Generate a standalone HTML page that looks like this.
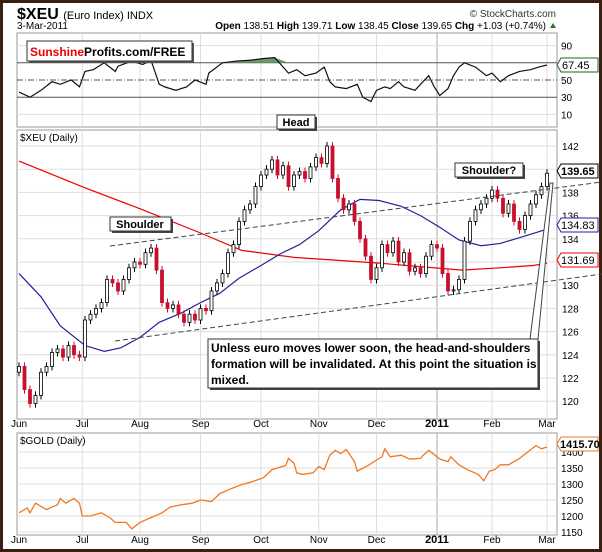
<!DOCTYPE html>
<html><head><meta charset="utf-8"><style>
body{margin:0;background:#fff}
svg{display:block;font-family:"Liberation Sans",sans-serif}
</style></head><body>
<svg id="chart" width="602" height="552" viewBox="0 0 602 552">
<rect x="0" y="0" width="602" height="552" fill="#fff"/>
<rect x="1.5" y="1.5" width="599" height="549" fill="none" stroke="#3b1f10" stroke-width="3"/>
<text x="17" y="19" font-size="16" font-weight="bold">$XEU <tspan font-size="11" font-weight="normal">(Euro Index) INDX</tspan></text>
<text x="556" y="17" font-size="10" text-anchor="end" fill="#333">© StockCharts.com</text>
<text x="17" y="29" font-size="10">3-Mar-2011</text>
<text x="546" y="29" font-size="10" text-anchor="end"><tspan font-weight="bold">Open</tspan> 138.51 <tspan font-weight="bold">High</tspan> 139.71 <tspan font-weight="bold">Low</tspan> 138.45 <tspan font-weight="bold">Close</tspan> 139.65 <tspan font-weight="bold">Chg</tspan> +1.03 (+0.74%)</text>
<polygon points="550,28 556,28 553,23" fill="#2a7a2a"/>
<g id="grid"></g>
<g id="rsi"></g>
<g id="main"></g>
<g id="gold"></g>
<g id="annot"></g>
</svg>
<script>
// ---- data ----
const monthLabels=["Jun","Jul","Aug","Sep","Oct","Nov","Dec","2011","Feb","Mar"];
const monthDays=[0,23,44,66,88,109,130,152,172,192];
const euroCloses=[123,121,119.8,120.5,122.5,123,124.2,124.5,123.8,124.8,124,123.8,127,127.5,128,128.5,130.5,130.2,129.5,130.5,131.5,132,131.8,132.8,133.2,131.3,128.5,128,128.3,127.5,126.8,127.5,127,128,127.8,129.5,130.2,131,132.8,133.5,135.5,136.5,137,138.5,139.5,140,140.8,139.5,140.3,138.5,139.5,139.8,139.2,140.2,141,140.5,142,139.2,137.5,136.5,137,135.5,134,132.5,130.5,131.5,133.5,132.8,133.8,132,132.8,131.2,131.5,131,132.5,133.5,133.2,131,129.5,129.6,130.5,133.8,135.5,136.5,137,137.5,138.2,137.5,136.2,137,135.5,134.8,136,137,137.8,138.5,139.65];
const ma50Days=[0,8,15,24,31,37,44,51,59,66,73,80,88,95,102,109,117,124,131,139,146,153,160,168,175,182,192];
const ma50Vals=[131,129,126.5,124.8,124.3,124.6,125.5,126.8,127.6,128.5,129.3,130.6,131.7,132.7,133.5,134.7,136.5,137.4,137.3,136.8,136,135,133.9,133.4,133.6,134.1,134.83];
const ma200Days=[0,24,45,66,81,100,131,161,175,187,192];
const ma200Vals=[140.7,138.4,136.5,134.5,133,132.4,131.9,131.3,131.5,131.7,131.9];
const rsiDays=[0,4,8,12,15,19,22,24,27,31,35,36,41,45,48,51,53,57,61,64,68,69,74,79,84,89,93,98,101,104,108,111,113,115,119,123,125,128,130,133,135,138,140,144,146,149,151,153,156,158,160,162,166,170,172,175,178,182,186,189,192];
const rsiVals=[36,30,38,48,45,50,42,60,62,70,60,66,72,68,73,45,42,38,42,50,45,58,70,72,73,75,76,58,62,55,58,65,48,42,40,45,30,25,38,42,40,48,42,38,45,55,42,32,40,55,65,70,65,55,58,48,55,60,62,65,67.45];
const goldDays=[0,3,4,6,10,12,14,15,17,20,22,23,26,30,33,35,39,41,44,48,52,55,59,63,66,70,73,77,81,84,89,92,97,98,100,101,103,107,109,111,113,115,117,119,122,123,127,130,132,133,135,139,142,146,147,149,153,156,157,160,163,167,169,171,173,175,178,182,185,188,190,192];
const goldVals=[1210,1225,1210,1240,1220,1228,1235,1255,1240,1255,1240,1200,1200,1210,1195,1180,1180,1160,1180,1195,1210,1228,1235,1240,1250,1245,1270,1285,1298,1305,1320,1345,1358,1380,1365,1335,1330,1335,1355,1345,1390,1405,1395,1408,1370,1340,1358,1375,1385,1410,1385,1390,1378,1380,1390,1405,1378,1370,1385,1360,1345,1330,1310,1340,1345,1360,1360,1380,1400,1420,1410,1415.7];
const mainTicks=[120,122,124,126,128,130,132,134,136,138,140,142];
const goldTicks=[1150,1200,1250,1300,1350,1400];
const rsiTicks=[10,30,50,70,90];

// ---- scales ----
const L=17,R=557;
const xS=d=>19+d*2.75;
const yMain=p=>146+(142-p)*11.6;
const yGold=v=>452-(v-1400)*0.32;
const yRsi=v=>80-(v-50)*0.86;
const NS="http://www.w3.org/2000/svg";
function mk(tag,attrs,parent){const e=document.createElementNS(NS,tag);for(const k in attrs)e.setAttribute(k,attrs[k]);document.getElementById(parent).appendChild(e);return e;}
function txt(s,attrs,parent){const e=mk('text',attrs,parent);e.textContent=s;return e;}

const panels=[[33,127,'rsi-panel'],[130,419,'price-panel'],[433,535,'gold-panel']];
panels.forEach(p=>{
  const r=mk('rect',{x:L,y:p[0],width:R-L,height:p[1]-p[0],fill:'#fff',stroke:'#999'},'grid');
  
  
  monthDays.forEach((d,i)=>{
    if(i===0)return;
    const l=mk('line',{x1:xS(d),x2:xS(d),y1:p[0],y2:p[1],stroke:monthLabels[i]==='2011'?'#aaa':'#ddd'},'grid');
    
    
  });
});
[427,543].forEach(y=>{
  monthLabels.forEach((m,i)=>{
    const t=txt(m,{x:xS(monthDays[i]),y:y,'font-size':m==='2011'?11:10,'font-weight':m==='2011'?'bold':'normal','text-anchor':'middle'},'grid');
    
    
  });
});
mainTicks.forEach(v=>{
  const l=mk('line',{x1:L,x2:R,y1:yMain(v),y2:yMain(v),stroke:'#ddd'},'grid');
  
  
  const t=txt(String(v),{x:R+5,y:yMain(v)+4,'font-size':10},'grid');
  
  
});
goldTicks.forEach(v=>{
  const l=mk('line',{x1:L,x2:R,y1:yGold(v),y2:yGold(v),stroke:'#ddd'},'grid');
  
  
  const t=txt(String(v),{x:R+4,y:yGold(v)+4,'font-size':10},'grid');
  
  
});
rsiTicks.forEach(v=>{
  const st=(v===30||v===70)?{stroke:'#555'}:(v===50?{stroke:'#555','stroke-dasharray':'6,2,1,2'}:{stroke:'#ddd'});
  const l=mk('line',Object.assign({x1:L,x2:R,y1:yRsi(v),y2:yRsi(v)},st),'grid');
  
  
  if(v!==70){
  const t=txt(String(v),{x:R+4,y:yRsi(v)+4,'font-size':10},'grid');
  
  }
});
txt('$XEU (Daily)',{x:L+3,y:141,'font-size':10},'grid');
txt('$GOLD (Daily)',{x:L+3,y:444,'font-size':10},'grid');

const rsiPts=rsiDays.map((d,i)=>xS(d)+','+yRsi(rsiVals[i]));
const clipTop=yRsi(70);
let fillPts=rsiDays.map((d,i)=>xS(d)+','+Math.min(yRsi(rsiVals[i]),clipTop)).join(' ');
const rf=mk('polygon',{points:xS(rsiDays[0])+','+clipTop+' '+fillPts+' '+xS(rsiDays[rsiDays.length-1])+','+clipTop,fill:'#6a9a6a'},'rsi');


const rl=mk('polyline',{points:rsiPts.join(' '),fill:'none',stroke:'#111','stroke-width':1.2},'rsi');



const m2=mk('polyline',{points:ma200Days.map((d,i)=>xS(d)+','+yMain(ma200Vals[i])).join(' '),fill:'none',stroke:'#e00','stroke-width':1.2},'main');


const m5=mk('polyline',{points:ma50Days.map((d,i)=>xS(d)+','+yMain(ma50Vals[i])).join(' '),fill:'none',stroke:'#22229a','stroke-width':1.2},'main');



euroCloses.forEach((c,i)=>{
  const o=i===0?c-0.5:euroCloses[i-1];
  const x=xS(i*2);
  const hi=Math.max(o,c)+0.35, lo=Math.min(o,c)-0.35;
  const up=c>=o;
  const col=up?'#000':'#c8102e';
  const w=mk('line',{x1:x,x2:x,y1:yMain(hi),y2:yMain(lo),stroke:col},'main');
  
  
  const b=mk('rect',{x:x-1.5,y:yMain(Math.max(o,c)),width:3,height:Math.max(1,Math.abs(yMain(o)-yMain(c))),fill:up?'#fff':'#c8102e',stroke:col,'stroke-width':0.8},'main');
  
  
});

const gl=mk('polyline',{points:goldDays.map((d,i)=>xS(d)+','+yGold(goldVals[i])).join(' '),fill:'none',stroke:'#f07820','stroke-width':1.3},'gold');


</script>
<script>
const A=document.getElementById('annot');
A.innerHTML=`
<line x1="110" y1="246" x2="602" y2="182" stroke="#444" stroke-dasharray="5,3"/>
<line x1="115" y1="341" x2="602" y2="274" stroke="#444" stroke-dasharray="5,3"/>
<g><rect x="29" y="43" width="165" height="20" fill="#555"/><rect x="27" y="41" width="165" height="20" fill="#fff" stroke="#333"/>
<text x="30" y="56" font-size="12" font-weight="bold" fill="#e00">Sunshine<tspan fill="#000">Profits.com/FREE</tspan></text></g>
<g><rect x="279" y="117" width="38" height="14" fill="#444"/><rect x="277" y="115" width="38" height="14" fill="#fff" stroke="#333"/><text x="296" y="126" font-size="11" font-weight="bold" text-anchor="middle">Head</text></g>
<g><rect x="112" y="219" width="61" height="14" fill="#444"/><rect x="110" y="217" width="61" height="14" fill="#fff" stroke="#333"/><text x="140" y="228" font-size="11" font-weight="bold" text-anchor="middle">Shoulder</text></g>
<g><rect x="457" y="165" width="68" height="14" fill="#444"/><rect x="455" y="163" width="68" height="14" fill="#fff" stroke="#333"/><text x="489" y="174" font-size="11" font-weight="bold" text-anchor="middle">Shoulder?</text></g>
<polygon points="530,339 550,183 553,183 538,339" fill="#fff" stroke="#444"/>
<g><rect x="210" y="341" width="330" height="49" fill="#444"/><rect x="208" y="339" width="330" height="49" fill="#fff" stroke="#333"/>
<text font-size="12" font-weight="bold"><tspan x="211" y="352">Unless euro moves lower soon, the head-and-shoulders</tspan><tspan x="211" y="368">formation will be invalidated. At this point the situation is</tspan><tspan x="211" y="384">mixed.</tspan></text></g>
<g><polygon points="557,65 561,58 598,58 598,72 561,72" fill="#fff" stroke="#1a6a1a"/><text x="562" y="69" font-size="11">67.45</text></g>
<g><polygon points="557,171 561,164 598,164 598,178 561,178" fill="#fff" stroke="#000"/><text x="561" y="175" font-size="11" font-weight="bold">139.65</text></g>
<g><polygon points="557,225 561,218 598,218 598,232 561,232" fill="#fff" stroke="#22229a"/><text x="561" y="229" font-size="11">134.83</text></g>
<g><polygon points="557,260 561,253 598,253 598,267 561,267" fill="#fff" stroke="#e00"/><text x="561" y="264" font-size="11">131.69</text></g>
<g><polygon points="557,444 561,437 598,437 598,451 561,451" fill="#fff" stroke="#f07820"/><text x="560" y="448" font-size="11" font-weight="bold">1415.70</text></g>`;
</script>
</body></html>
